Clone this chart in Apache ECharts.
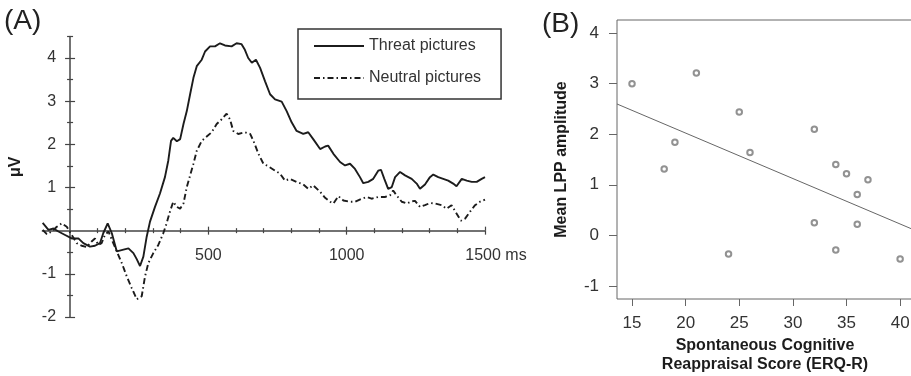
<!DOCTYPE html>
<html><head><meta charset="utf-8">
<script src="https://cdn.jsdelivr.net/npm/echarts@6/dist/echarts.min.js"></script>
<style>html,body{margin:0;padding:0;background:#fff}#c{width:911px;height:376px}</style>
</head><body><div id="c"></div>
<script>
// ---- Panel A: ERP waveforms (time in ms, amplitude in µV) ----
const threatTimes = [-99,-78,-60,-42,-18,6,30,48,72,90,108,120,136,151,169,193,211,229,241,253,265,277,289,307,325,343,355,365,373,386,398,410,422,434,446,458,476,488,506,524,542,560,584,602,620,632,644,657,672,687,705,723,741,765,783,801,819,843,861,879,904,922,933,952,976,994,1012,1030,1048,1060,1078,1096,1114,1124,1136,1150,1163,1175,1193,1211,1235,1253,1265,1283,1301,1313,1331,1349,1367,1385,1397,1416,1434,1452,1470,1488,1500];
const threatValues = [0.18,0.02,0.05,-0.02,-0.10,-0.18,-0.18,-0.29,-0.37,-0.35,-0.29,-0.06,0.17,-0.06,-0.48,-0.44,-0.41,-0.52,-0.66,-0.82,-0.60,-0.14,0.21,0.55,0.86,1.24,1.62,2.08,2.15,2.07,2.12,2.47,2.77,3.16,3.54,3.81,3.96,4.15,4.27,4.27,4.34,4.29,4.27,4.34,4.32,4.19,4.00,3.89,3.96,3.77,3.46,3.16,3.04,2.99,2.77,2.51,2.31,2.24,2.28,2.12,1.89,1.95,1.97,1.78,1.59,1.51,1.55,1.43,1.24,1.10,1.13,1.20,1.39,1.41,1.20,0.97,1.01,1.24,1.36,1.28,1.20,1.09,0.97,1.07,1.24,1.30,1.24,1.20,1.16,1.09,1.03,1.20,1.16,1.13,1.13,1.20,1.24];
const neutralTimes = [-99,-84,-66,-48,-30,-12,6,24,42,60,78,90,102,114,126,139,151,169,187,205,223,241,247,259,271,283,301,319,337,349,361,373,386,398,410,422,434,446,458,476,494,512,530,548,566,578,590,608,632,651,663,681,699,717,741,759,777,795,819,843,861,879,904,922,940,952,970,988,1012,1030,1054,1072,1090,1114,1138,1157,1168,1180,1199,1217,1235,1247,1265,1283,1301,1319,1343,1361,1379,1397,1413,1428,1446,1464,1482,1500];
const neutralValues = [0.02,-0.08,-0.02,0.09,0.17,0.09,-0.10,-0.29,-0.35,-0.38,-0.25,-0.18,-0.33,-0.29,-0.10,-0.02,-0.21,-0.48,-0.75,-1.06,-1.33,-1.59,-1.63,-1.52,-1.06,-0.75,-0.52,-0.33,-0.06,0.17,0.44,0.67,0.55,0.51,0.63,1.01,1.28,1.55,1.85,2.08,2.18,2.28,2.47,2.58,2.71,2.58,2.31,2.24,2.28,2.24,2.08,1.78,1.55,1.49,1.39,1.32,1.16,1.20,1.13,1.07,0.97,1.05,0.90,0.76,0.67,0.63,0.80,0.70,0.67,0.67,0.74,0.78,0.74,0.78,0.78,0.82,0.93,0.82,0.67,0.63,0.68,0.69,0.55,0.59,0.64,0.63,0.59,0.51,0.59,0.40,0.23,0.28,0.44,0.59,0.67,0.72];
const seriesNamesA = ['Threat pictures', 'Neutral pictures'];
const xMinorTicksA = [100,200,300,400,600,700,800,900,1100,1200,1300,1400];
const xMajorTicksA = [500,1000,1500];
const yMinorTicksA = [-1.5,-0.5,0.5,1.5,2.5,3.5,4.5];
const yMajorTicksA = [-2,-1,1,2,3,4];
const yLabelsA = [-2,-1,1,2,3,4];

// ---- Panel B: scatter of reappraisal score vs mean LPP ----
const erqScores = [15,18,19,21,25,26,32,34,35,37,36,32,36,24,34,40];
const lppAmplitudes = [3.00,1.31,1.84,3.21,2.44,1.64,2.10,1.40,1.22,1.10,0.81,0.25,0.22,-0.37,-0.29,-0.47];
const xTicksB = [15,20,25,30,35,40];
const yTicksB = [-1,0,1,2,3,4];

const FONT = "'Liberation Sans', Arial, sans-serif";
const AX = '#444';
const TXT = '#333';
const INK = '#1c1c1c';

// least-squares regression line from the scatter data
const n = erqScores.length;
const mx = erqScores.reduce((a,b)=>a+b,0)/n;
const my = lppAmplitudes.reduce((a,b)=>a+b,0)/n;
let sxy = 0, sxx = 0;
for (let i=0;i<n;i++){ sxy += (erqScores[i]-mx)*(lppAmplitudes[i]-my); sxx += (erqScores[i]-mx)**2; }
const slope = sxy/sxx, icept = my - slope*mx;
const xMinB = 13.6, xMaxB = 41.2;

// Panel A grid and axis ranges; axes cross at (0 ms, 0 µV)
const gA = { left: 42.4, top: 36.4, width: 442.6, height: 280.6 };
const xMinA = -100, xMaxA = 1500, yMinA = -2, yMaxA = 4.5;
const zeroY = gA.top + gA.height * (yMaxA - 0) / (yMaxA - yMinA);
const zeroX = gA.left + gA.width * (0 - xMinA) / (xMaxA - xMinA);
const xOffA = -(gA.top + gA.height - zeroY);
const yOffA = -(zeroX - gA.left);

function pairs(xs, ys){ return xs.map((x,i)=>[x, ys[i]]); }

function axA(dim, ticks, len, inside, main) {
  const isX = dim === 'x';
  const base = {
    gridIndex: 0, type: 'value',
    position: isX ? 'bottom' : 'left',
    offset: isX ? xOffA : yOffA,
    min: isX ? xMinA : yMinA, max: isX ? xMaxA : yMaxA,
    axisLine: { show: main, onZero: false, lineStyle: { color: AX, width: 1.5 } },
    axisTick: { show: true, inside: inside, length: len, customValues: ticks, lineStyle: { color: AX, width: 1.2 } },
    splitLine: { show: false },
    axisLabel: { show: false }
  };
  if (main && isX) {
    base.axisLabel = {
      show: true, customValues: xMajorTicksA, margin: 17, fontSize: 16, color: TXT, fontFamily: FONT,
      formatter: v => v === 1500 ? '{q|1500 ms}' : String(v),
      rich: { q: { padding: [0,0,0,22], fontSize: 16, color: TXT, fontFamily: FONT } }
    };
  }
  if (main && !isX) {
    base.axisLabel = { show: true, customValues: yLabelsA, margin: 14, fontSize: 16, color: TXT, fontFamily: FONT };
    base.name = 'μV';
    base.nameLocation = 'middle';
    base.nameGap = 46;
    base.nameMoveOverlap = false;
    base.nameRotate = 90;
    base.nameTextStyle = { fontSize: 16, fontWeight: 'bold', color: INK, fontFamily: FONT, padding: [0, 0, 0, 20] };
  }
  return base;
}

const option = {
  animation: false,
  backgroundColor: '#fff',
  title: [
    { text: '(A)', left: 4, top: 7, padding: 0, textStyle: { fontSize: 28, fontWeight: 'normal', color: '#222', fontFamily: FONT } },
    { text: '(B)', left: 542, top: 10, padding: 0, textStyle: { fontSize: 28, fontWeight: 'normal', color: '#222', fontFamily: FONT } }
  ],
  legend: {
    data: seriesNamesA,
    orient: 'vertical', left: 298, top: 29,
    padding: [9, 20, 13, 15], itemGap: 16, itemWidth: 50, itemHeight: 14, itemTextGap: 10,
    borderColor: '#333', borderWidth: 1.5,
    itemStyle: { opacity: 0 },
    textStyle: { fontSize: 16, color: TXT, fontFamily: FONT }
  },
  grid: [
    Object.assign({ outerBoundsMode: 'none' }, gA),
    { left: 617, top: 20, right: -2, height: 279, outerBoundsMode: 'none', show: true, borderColor: '#666', borderWidth: 1, backgroundColor: 'transparent' }
  ],
  xAxis: [
    axA('x', xMinorTicksA, 2.5, false, true),
    axA('x', xMinorTicksA, 2.5, true, false),
    axA('x', xMajorTicksA, 4, false, false),
    axA('x', xMajorTicksA, 4, true, false),
    {
      gridIndex: 1, type: 'value', position: 'bottom', min: xMinB, max: xMaxB,
      axisLine: { show: false, onZero: false },
      axisTick: { show: true, length: 7, customValues: xTicksB, lineStyle: { color: '#666' } },
      axisLabel: { customValues: xTicksB, margin: 16, fontSize: 17, color: TXT, fontFamily: FONT },
      splitLine: { show: false },
      name: 'Spontaneous Cognitive\nReappraisal Score (ERQ-R)', nameLocation: 'middle', nameGap: 37, nameMoveOverlap: false,
      nameTextStyle: { fontSize: 16, fontWeight: 'bold', color: INK, fontFamily: FONT, lineHeight: 19 }
    }
  ],
  yAxis: [
    axA('y', yMinorTicksA, 3, false, true),
    axA('y', yMinorTicksA, 3, true, false),
    axA('y', yMajorTicksA, 5, false, false),
    axA('y', yMajorTicksA, 5, true, false),
    {
      gridIndex: 1, type: 'value', position: 'left', min: -1.26, max: 4.26,
      axisLine: { show: false, onZero: false },
      axisTick: { show: true, length: 8, customValues: yTicksB, lineStyle: { color: '#666' } },
      axisLabel: { customValues: yTicksB, margin: 18, fontSize: 17, color: TXT, fontFamily: FONT },
      splitLine: { show: false },
      name: 'Mean LPP amplitude', nameLocation: 'middle', nameGap: 47, nameRotate: 90, nameMoveOverlap: false,
      nameTextStyle: { fontSize: 16, fontWeight: 'bold', color: INK, fontFamily: FONT }
    }
  ],
  series: [
    { name: seriesNamesA[0], type: 'line', xAxisIndex: 0, yAxisIndex: 0, symbol: 'none',
      data: pairs(threatTimes, threatValues), lineStyle: { color: INK, width: 1.9 }, itemStyle: { color: INK } },
    { name: seriesNamesA[1], type: 'line', xAxisIndex: 0, yAxisIndex: 0, symbol: 'none',
      data: pairs(neutralTimes, neutralValues), lineStyle: { color: INK, width: 1.9, type: [6, 3, 1.5, 3] }, itemStyle: { color: INK } },
    { name: 'fit', type: 'line', xAxisIndex: 4, yAxisIndex: 4, symbol: 'none', silent: true,
      data: [[xMinB, icept + slope*xMinB], [xMaxB, icept + slope*xMaxB]], lineStyle: { color: '#666', width: 1 } },
    { name: 'scores', type: 'scatter', xAxisIndex: 4, yAxisIndex: 4, symbol: 'emptyCircle', symbolSize: 5.5,
      data: pairs(erqScores, lppAmplitudes), itemStyle: { color: '#777', borderColor: '#777', borderWidth: 1 } }
  ]
};
const chart = echarts.init(document.getElementById('c'), null, { renderer: 'canvas' });
chart.setOption(option);
</script>
</body></html>
